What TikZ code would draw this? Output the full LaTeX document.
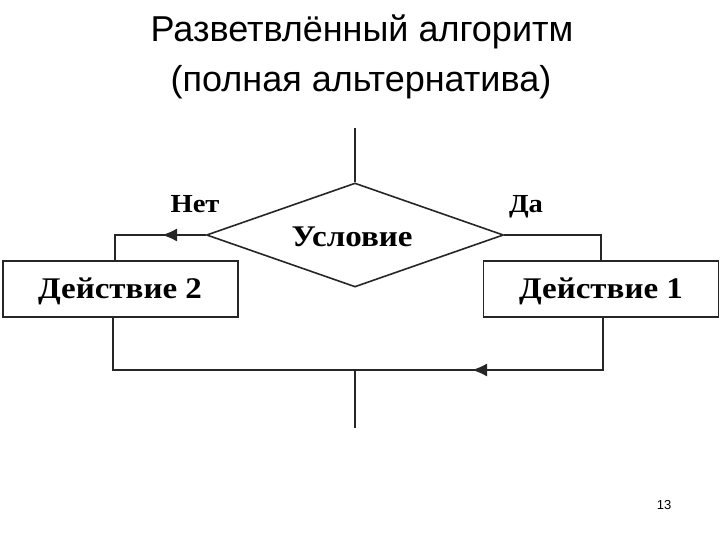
\documentclass[tikz,border=0pt]{standalone}
\usepackage{fontspec}
\setmainfont{Liberation Serif}
\newfontfamily\titlefont{Liberation Sans}
\newfontfamily\diagfont[FakeStretch=1.1]{Liberation Serif}
\usetikzlibrary{shapes.geometric,arrows.meta}
\begin{document}
\begin{tikzpicture}[x=1pt,y=-1pt,
  line/.style={line width=1.6pt,black!85},
  arr/.style={line/.try, -{Latex[length=15pt,width=13pt]}},
  boxnode/.style={draw,line width=1.6pt,black!85,minimum width=235pt,minimum height=56pt,inner sep=0pt},
  dtext/.style={font=\diagfont\fontsize{30}{32}\selectfont\bfseries,inner sep=0pt,anchor=base},
  lbl/.style={font=\diagfont\fontsize{26}{28}\selectfont\bfseries,inner sep=0pt,anchor=base},
  ttl/.style={font=\titlefont\fontsize{36}{40}\selectfont,inner sep=0pt,anchor=base}]
\useasboundingbox (0,0) rectangle (720,540);
\node[ttl] (t1) at (362,42) {Разветвлённый алгоритм};
\node[ttl] (t2) at (361,92) {(полная альтернатива)};
\node[font=\titlefont\fontsize{13}{14}\selectfont,inner sep=0pt] (pg) at (664,505) {13};

\node[diamond,draw,line width=1.6pt,black!85,minimum width=297pt,minimum height=104pt,inner sep=0pt] (d) at (355,235) {};
\node[dtext] (cond) at (352,246) {Условие};
\node[boxnode] (b2) at (120.5,289) {};
\node[dtext] (b2t) at (120,298) {Действие 2};
\node[boxnode] (b1) at (601,289) {};
\node[dtext] (b1t) at (601,298) {Действие 1};
\node[lbl] (no) at (195,213) {Нет};
\node[lbl] (yes) at (526,213) {Да};

\coordinate (top) at (355,128);
\coordinate (bot) at (355,428);
\coordinate (cl) at (115,235);
\coordinate (cr) at (601,235);
\coordinate (al) at (162,235);
\coordinate (ml) at (113,370);
\coordinate (mr) at (603,370);
\coordinate (mm) at (355,370);
\coordinate (ab) at (472,370);

\draw[line] (top) -- (d.north);
\draw[line] (d.west) -- (cl) -- (cl |- b2.north);
\draw[arr,black!85] (d.west) -- (al);
\draw[line] (d.east) -- (cr) -- (cr |- b1.north);
\draw[line] (mr |- b1.south) -- (mr) -- (ml) -- (ml |- b2.south);
\draw[arr,black!85] (mr) -- (ab);
\draw[line] (mm) -- (bot);
\end{tikzpicture}
\end{document}
